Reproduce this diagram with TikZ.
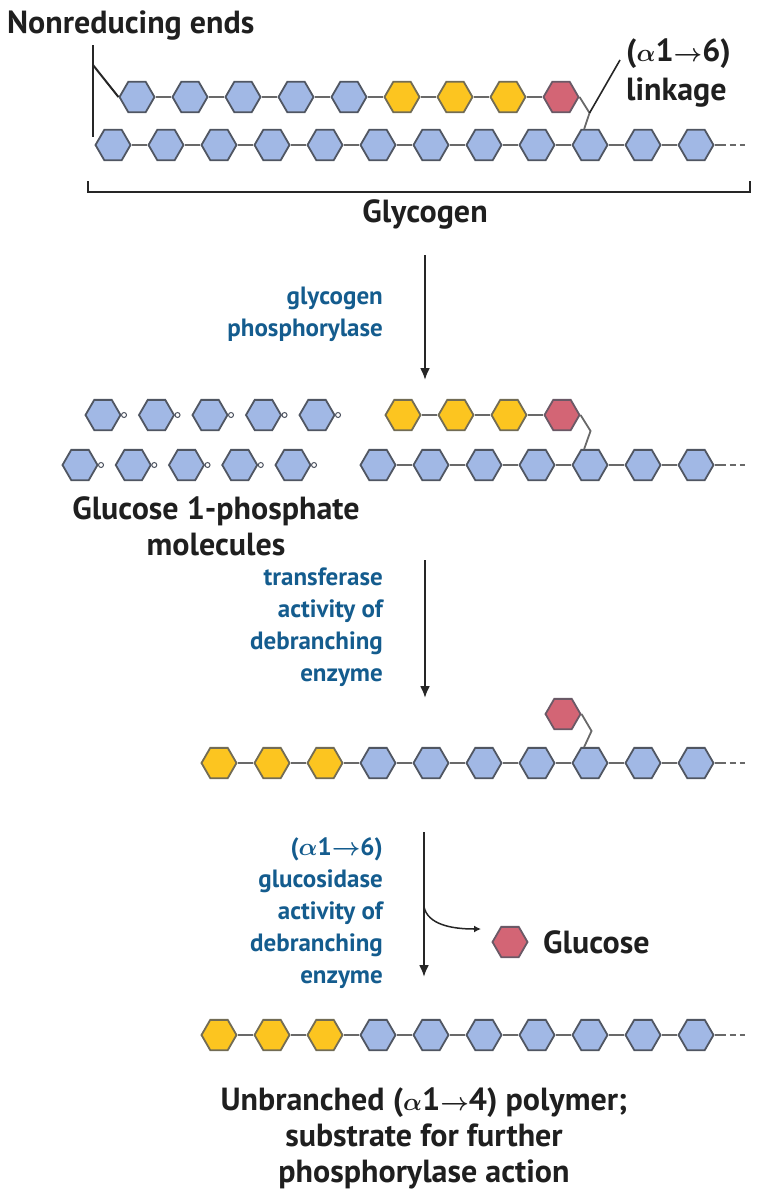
\documentclass[tikz,border=0pt]{standalone}
\usepackage{fontspec}
\setmainfont{PT Sans}
\usetikzlibrary{shapes.geometric,positioning,calc,arrows.meta}

\definecolor{glcblue}{RGB}{161,184,229}
\definecolor{glcgold}{RGB}{252,197,32}
\definecolor{glcred}{RGB}{211,101,117}
\definecolor{rimgray}{RGB}{80,86,98}
\definecolor{bondgray}{RGB}{105,105,105}
\definecolor{enzblue}{RGB}{20,92,142}

\tikzset{
  gl/.style={regular polygon, regular polygon sides=6, minimum size=35pt,
    inner sep=0pt, draw=rimgray, line width=1.8pt, fill=glcblue},
  glY/.style={gl, fill=glcgold, draw=rimgray!80!glcgold},
  glR/.style={gl, fill=glcred, draw=rimgray!80!glcred},
  phos/.style={circle, draw=rimgray, fill=white, line width=1pt,
    minimum size=5pt, inner sep=0pt},
  bond/.style={draw=bondgray, line width=1.8pt},
  tail/.style={bond, dash pattern=on 11pt off 4pt on 6pt off 4pt on 5pt},
  bar/.style={draw=black!85, line width=2pt},
  rxn/.style={-{Latex[length=12pt,width=10pt]}, draw=black!85, line width=2.2pt},
  lbl/.style={font={\fontsize{32}{36}\selectfont\bfseries\boldmath},
    text=black!88, align=center, inner sep=0pt},
  enz/.style={font={\fontsize{25}{32}\selectfont\bfseries\boldmath},
    text=enzblue, align=right, anchor=east, inner sep=0pt}
}

\begin{document}
\begin{tikzpicture}[x=1pt,y=-1pt]
  \useasboundingbox (0,0) rectangle (763,1200);

  % glycogen: main chain and branch
  \foreach \k in {0,...,11}
    \node[gl] (a\k) at ({113+53*\k},145) {};
  \foreach \k [remember=\k as \j (initially 0)] in {1,...,11}
    \draw[bond] (a\j) -- (a\k);
  \coordinate (aend) at ($(a11.east)+(34,0)$);
  \draw[tail] (a11.east) -- (aend);

  \foreach \j/\s in {0/gl,1/gl,2/gl,3/gl,4/gl,5/glY,6/glY,7/glY,8/glR}
    \node[\s] (b\j) at ({137+53*\j},97) {};
  \foreach \k [remember=\k as \j (initially 0)] in {1,...,8}
    \draw[bond] (b\j) -- (b\k);
  \draw[bond] (b8.east) -- ++(10,16) coordinate (kink1) -- (a9.110);

  \node[lbl, anchor=west] (nre) at (7,26) {Nonreducing ends};
  \coordinate (nr1) at (93,45);
  \coordinate (nr2) at (93,137);
  \coordinate (nr3) at (93,65);
  \draw[bar] (nr1) -- (nr2);
  \draw[bar] (nr3) -- (b0.west);

  \node[lbl, align=left, anchor=north west, font={\fontsize{32}{39}\selectfont\bfseries\boldmath}]
    (link) at (626,38) {($\alpha$1$\rightarrow$6)\\linkage};
  \coordinate (lk) at (620,60);
  \draw[bar, line width=1.6pt] (kink1) -- (lk);

  \coordinate (gl1) at (88,181);
  \coordinate (gl2) at (750,181);
  \draw[bar] (gl1) -- ++(0,11) -| (gl2);
  \node[lbl] (glyc) at (425,214) {Glycogen};

  % glycogen phosphorylase
  \coordinate (s1a) at (425,255);
  \coordinate (s1b) at (425,380);
  \draw[rxn] (s1a) -- (s1b);
  \node[enz] (e1) at (383,314) {glycogen\\phosphorylase};

  % glucose 1-phosphate
  \foreach \j in {0,...,4} {
    \node[gl] (p\j) at ({103+53.5*\j},415) {};
    \node[phos, right=-0.5pt of p\j] (pp\j) {};
    \node[gl] (q\j) at ({80+53.25*\j},465) {};
    \node[phos, right=-0.5pt of q\j] (qq\j) {};
  }
  \node[lbl] (g1p) at (216,526) {Glucose 1-phosphate\\molecules};

  % limit branch
  \foreach \k in {5,...,11}
    \node[gl] (d\k) at ({113+53*\k},465) {};
  \foreach \k [remember=\k as \j (initially 5)] in {6,...,11}
    \draw[bond] (d\j) -- (d\k);
  \coordinate (dend) at ($(d11.east)+(34,0)$);
  \draw[tail] (d11.east) -- (dend);
  \foreach \j/\s in {0/glY,1/glY,2/glY,3/glR}
    \node[\s] (c\j) at ({403+53*\j},415) {};
  \foreach \k [remember=\k as \j (initially 0)] in {1,...,3}
    \draw[bond] (c\j) -- (c\k);
  \draw[bond] (c3.east) -- ++(10,16) -- (d9.110);

  % transferase
  \coordinate (s2a) at (425,560);
  \coordinate (s2b) at (425,698);
  \draw[rxn] (s2a) -- (s2b);
  \node[enz] (e2) at (383,627) {transferase\\activity of\\debranching\\enzyme};

  \foreach \k/\s in {2/glY,3/glY,4/glY,5/gl,6/gl,7/gl,8/gl,9/gl,10/gl,11/gl}
    \node[\s] (f\k) at ({113+53*\k},763) {};
  \foreach \k [remember=\k as \j (initially 2)] in {3,...,11}
    \draw[bond] (f\j) -- (f\k);
  \coordinate (fend) at ($(f11.east)+(34,0)$);
  \draw[tail] (f11.east) -- (fend);
  \node[glR] (fr) at (563,714) {};
  \draw[bond] (fr.east) -- ++(10,17) -- (f9.110);

  % glucosidase
  \coordinate (s3a) at (424,832);
  \coordinate (s3b) at (424,977);
  \coordinate (s3c) at (424,907);
  \coordinate (s3d) at (481,929);
  \draw[rxn] (s3a) -- (s3b);
  \draw[-{Latex[length=7pt,width=7pt]}, draw=black!85, line width=1.5pt]
    (s3c) .. controls (428,924) and (450,929) .. (s3d);
  \node[enz] (e3) at (383,913)
    {($\alpha$1$\rightarrow$6)\\glucosidase\\activity of\\debranching\\enzyme};
  \node[glR] (glu) at (510,942) {};
  \node[lbl, anchor=west] (glut) at (543,942) {Glucose};

  % unbranched product
  \foreach \k/\s in {2/glY,3/glY,4/glY,5/gl,6/gl,7/gl,8/gl,9/gl,10/gl,11/gl}
    \node[\s] (h\k) at ({113+53*\k},1035) {};
  \foreach \k [remember=\k as \j (initially 2)] in {3,...,11}
    \draw[bond] (h\j) -- (h\k);
  \coordinate (hend) at ($(h11.east)+(34,0)$);
  \draw[tail] (h11.east) -- (hend);
  \node[lbl] (prod) at (424,1138)
    {Unbranched ($\alpha$1$\rightarrow$4) polymer;\\substrate for further\\phosphorylase action};
\end{tikzpicture}
\end{document}
